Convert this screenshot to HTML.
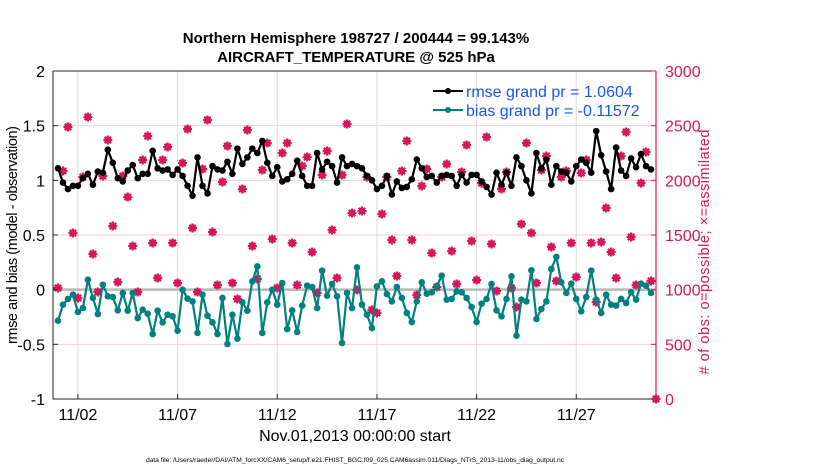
<!DOCTYPE html>
<html><head><meta charset="utf-8"><style>
body{margin:0;background:#fff;}
svg{display:block;font-family:"Liberation Sans",Arial,sans-serif;}
</style></head><body>
<svg id="chart" width="830" height="470" viewBox="0 0 830 470">
<g id="grid"></g>
<g id="marks"></g>
<g id="axes"></g>
<text x="356" y="43" text-anchor="middle" font-size="15" font-weight="bold">Northern Hemisphere 198727 / 200444 = 99.143%</text>
<text x="356" y="62" text-anchor="middle" font-size="15" font-weight="bold">AIRCRAFT_TEMPERATURE @ 525 hPa</text>
<text transform="translate(17,235) rotate(-90)" text-anchor="middle" font-size="14.5" textLength="218">rmse and bias (model - observation)</text>
<text transform="translate(709,252) rotate(-90)" text-anchor="middle" font-size="14.5" fill="#d6175c" textLength="245"># of obs: o=possible; ×=assimilated</text>
<text x="355" y="441" text-anchor="middle" font-size="16">Nov.01,2013 00:00:00 start</text>
<text x="355" y="462" text-anchor="middle" font-size="6.7" textLength="418">data file: /Users/raeder/DAI/ATM_forcXX/CAM6_setup/f.e21.FHIST_BGC.f09_025.CAM6assim.011/Diags_NTrS_2013-11/obs_diag_output.nc</text>
<g>
<line x1="433" y1="91" x2="463" y2="91" stroke="#000" stroke-width="2"/>
<circle cx="448" cy="91" r="3" fill="#000"/>
<text x="466" y="97" font-size="16" fill="#1a55ee">rmse grand pr = 1.0604</text>
<line x1="433" y1="110" x2="463" y2="110" stroke="#00807f" stroke-width="2"/>
<circle cx="448" cy="110" r="3" fill="#00807f"/>
<text x="466" y="116" font-size="16" fill="#1a55ee">bias grand pr = -0.11572</text>
</g>
</svg>
<script>
const rmse = [1.11,0.98,0.92,0.95,0.95,1.02,1.06,0.96,1.08,1.07,1.28,1.16,1.02,0.99,1.09,1.14,1.02,1.06,1.06,1.27,1.11,1.09,1.1,1.05,1.1,1.04,0.95,0.86,1.21,
0.95,0.88,1.13,1.1,1.09,1.17,1.06,1.29,1.15,1.21,1.29,1.25,1.36,1.16,1.04,1.12,0.99,1.01,1.06,1.18,1.04,0.95,0.95,1.25,1.1,1.17,1.13,0.98,1.21,1.13,
1.15,1.13,1.11,1.04,1.0,0.92,0.95,1.04,0.87,0.99,0.93,0.94,1.01,1.19,1.11,1.03,1.04,0.98,1.04,1.05,1.04,0.95,1.05,0.98,1.05,1.05,0.99,0.94,0.87,1.07,0.96,
1.07,0.95,1.21,1.13,1.0,0.88,1.25,1.11,1.19,0.96,1.13,1.08,1.07,0.99,1.13,1.19,1.16,1.07,1.45,1.23,1.08,0.92,1.3,1.09,1.04,1.2,1.12,1.24,1.13,1.1];
const bias = [-0.284,-0.137,-0.085,-0.046,-0.204,-0.168,0.091,-0.076,-0.223,0.046,-0.061,-0.067,-0.189,-0.03,-0.192,-0.03,-0.259,-0.183,-0.22,-0.406,-0.192,-0.299,-0.229,-0.244,-0.375,0,-0.082,-0.107,-0.396,-0.046,
-0.238,-0.299,-0.406,-0.076,-0.497,-0.229,-0.448,-0.116,-0.192,0.076,0.213,-0.396,-0.116,0,-0.137,0.061,-0.36,-0.189,-0.387,-0.146,0.037,0.024,-0.168,0.174,-0.055,0.052,-0.061,-0.488,-0.03,
-0.168,0.204,-0.137,-0.229,-0.351,0.03,0.076,-0.04,-0.107,0.024,-0.076,-0.213,-0.296,-0.107,0.067,-0.037,-0.024,0.03,0.128,-0.091,-0.085,-0.015,-0.024,-0.076,-0.159,-0.296,-0.128,-0.085,0.052,-0.189,-0.244,
-0.085,0.122,-0.421,-0.091,-0.107,0.177,-0.268,-0.177,-0.107,0.189,0.299,0.067,-0.03,0.055,-0.085,-0.198,-0.067,0.174,-0.091,-0.213,-0.046,-0.137,-0.146,-0.085,-0.122,-0.024,-0.091,0.055,0.037,-0.03];
const nAssim = [1015,2085,2488,1518,924,2030,2579,1326,979,2040,2369,1582,1070,2040,1847,1399,979,2186,2405,1427,1107,2186,2305,1427,1061,2158,2469,1564,979,2104,
2552,1527,1043,1985,2314,1061,915,1921,2460,1399,1098,2094,2341,1463,1015,2250,2341,1427,1043,2131,2213,1344,970,2049,2268,1546,1107,2049,2515,
1701,997,1719,2030,814,787,1692,2030,1454,1125,2085,2360,1454,951,1948,2104,1335,1024,2030,2149,1354,1052,2076,2323,1445,1088,1975,2396,1418,988,1921,
2076,1015,841,1600,2341,1518,1061,2094,2222,1390,1079,2030,2085,1427,1116,2067,2186,1427,887,1436,1747,1344,1107,2222,2442,1482,1043,1975,2259,1079,0];
const nPoss = nAssim.slice();
const xTickDays = [1,6,11,16,21,26];
const xTickLabels = ["11/02","11/07","11/12","11/17","11/22","11/27"];
const leftTicks = [2,1.5,1,0.5,0,-0.5,-1];
const rightTicks = [3000,2500,2000,1500,1000,500,0];

const L=53,R=656,T=71,B=399;
const xs = t => L + (t + 0.25) / 30.25 * (R - L);
const yl = v => B - (v + 1) / 3 * (B - T);
const yr = v => B - v / 3000 * (B - T);
const NS="http://www.w3.org/2000/svg";
function mk(parent,tag,attrs){const e=document.createElementNS(NS,tag);for(const k in attrs)e.setAttribute(k,attrs[k]);parent.appendChild(e);return e;}
const grid=document.getElementById('grid'), marks=document.getElementById('marks'), axes=document.getElementById('axes');
const PINK="#d6175c", TEAL="#00807f";

xTickDays.forEach((d,i)=>{
  const g=mk(grid,'line',{x1:xs(d),x2:xs(d),y1:T,y2:B,stroke:'#dcdcdc','stroke-width':1});
  
  
});
rightTicks.forEach(v=>{
  const g=mk(grid,'line',{x1:L,x2:R,y1:yr(v),y2:yr(v),stroke:'#f6cfdc','stroke-width':1});
  
  
});
const z=mk(grid,'line',{x1:L,x2:R,y1:yl(0),y2:yl(0),stroke:'#b8b8b8','stroke-width':2.5});



nAssim.forEach((v,i)=>{
  const x=xs(i*0.25), y=yr(v), yp=yr(nPoss[i]);
  const c=mk(marks,'circle',{cx:x,cy:yp,r:2.8,fill:'none',stroke:PINK,'stroke-width':1.4});
  
  
  const s=mk(marks,'path',{d:`M${x-4.5},${y}H${x+4.5}M${x},${y-4.5}V${y+4.5}M${x-3.2},${y-3.2}L${x+3.2},${y+3.2}M${x-3.2},${y+3.2}L${x+3.2},${y-3.2}`,stroke:PINK,'stroke-width':2.2});
  
  
});

function series(arr,color,name){
  const pts=arr.map((v,i)=>xs(i*0.25).toFixed(1)+','+yl(v).toFixed(1)).join(' ');
  const pl=mk(marks,'polyline',{points:pts,fill:'none',stroke:color,'stroke-width':2.2,'stroke-linejoin':'round'});
  
  
  arr.forEach((v,i)=>{
    const c=mk(marks,'circle',{cx:xs(i*0.25),cy:yl(v),r:3.3,fill:color});
    
    
  });
}
series(bias,TEAL,'bias');
series(rmse,'#000','rmse');

const ax1=mk(axes,'path',{d:`M${L},${T}V${B}H${R}`,stroke:'#262626','stroke-width':1,fill:'none'});


const ax2=mk(axes,'line',{x1:L,x2:R,y1:T,y2:T,stroke:'#262626','stroke-width':1});


const ax3=mk(axes,'line',{x1:R,x2:R,y1:T,y2:B,stroke:PINK,'stroke-width':1.2});


leftTicks.forEach(v=>{
  const t=mk(axes,'line',{x1:L,x2:L+5,y1:yl(v),y2:yl(v),stroke:'#262626'});
  
  
  const tx=mk(axes,'text',{x:L-8,y:yl(v)+6,'text-anchor':'end','font-size':16});
  tx.textContent=String(v);
  
  
});
rightTicks.forEach(v=>{
  const t=mk(axes,'line',{x1:R-5,x2:R,y1:yr(v),y2:yr(v),stroke:PINK});
  
  
  const tx=mk(axes,'text',{x:R+9,y:yr(v)+6,'font-size':16,fill:PINK});
  tx.textContent=String(v);
  
  
});
xTickDays.forEach((d,i)=>{
  const t=mk(axes,'line',{x1:xs(d),x2:xs(d),y1:B-5,y2:B,stroke:'#262626'});
  
  
  const tx=mk(axes,'text',{x:xs(d),y:B+21,'text-anchor':'middle','font-size':16});
  tx.textContent=xTickLabels[i];
  
  
});
</script>
</body></html>
